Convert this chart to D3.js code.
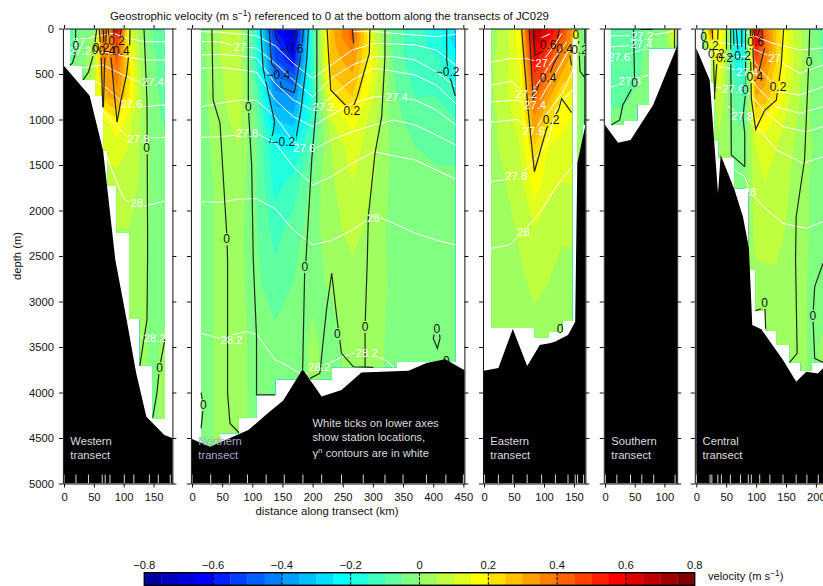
<!DOCTYPE html>
<html>
<head>
<meta charset="utf-8">
<script src="https://cdnjs.cloudflare.com/ajax/libs/d3/7.8.5/d3.min.js"></script>
<style>
  html, body { margin: 0; padding: 0; background: #fff; }
  svg { display: block; font-family: "Liberation Sans", Arial, sans-serif; }
  text { fill: #111; }
</style>
</head>
<body>
<div id="chart"></div>
<script>
// depth rows shared by all velocity tables (m)
var depthRows = [10, 100, 200, 350, 500, 750, 1000, 1300, 1700, 2200, 2800, 3500, 4200, 4700];

// ---------- Western transect ----------
var westStations = [0, 20, 41, 64, 69, 77, 101, 117, 143, 158, 178];
var westKm = [10, 30, 52, 66, 73, 89, 109, 130, 150, 169];
var westVel = [
  [-.08, -.03, .0, .5, .3, .65, .12, .02, -.05, -.09],
  [-.08, -.03, .02, .45, .3, .5, .15, .02, -.05, -.09],
  [-.07, -.03, .05, .42, .32, .45, .18, .02, -.05, -.09],
  [-.06, -.02, .06, .4, .33, .42, .2, .03, -.04, -.08],
  [-.05, -.02, .08, .35, .33, .38, .22, .04, -.04, -.08],
  [-.04, -.02, .1, .25, .3, .33, .2, .05, -.03, -.07],
  [-.03, -.02, .05, .15, .15, .2, .12, .04, -.03, -.06],
  [-.03, -.02, .04, .1, .12, .13, .1, .04, -.02, -.04],
  [-.03, -.02, .03, .06, .07, .08, .08, .04, -.02, -.03],
  [-.02, -.02, .03, .04, .04, .05, .05, .03, -.02, -.03],
  [.02, .02, .02, .02, .03, .03, .03, .02, -.02, -.02],
  [.02, .02, .02, .02, .02, .02, .02, .01, -.01, .01],
  [.02, .02, .02, .02, .02, .02, .02, .01, -.01, .02],
  [.02, .02, .02, .02, .02, .02, .02, .01, -.01, .02]
];
var westStepKm = [10, 31, 52, 65.5, 73, 88, 109, 127, 148, 169];
var westStepDepth = [412, 565, 738, 1343, 1728, 2245, 3192, 3705, 4291];
var westBottom = [[0, 412], [43, 738], [65.5, 1343], [86, 2544], [104, 3167], [121, 3788], [138, 4266], [168, 4467], [183, 4504]];
var westVelLines = [
  [[19.6, 10], [19, 200], [18, 300], [14, 380], [10, 404]],
  [[54.8, 10], [49, 290], [41, 480], [32, 565]],
  [[59, 10], [62, 260], [65, 866]],
  [[71, 10], [68, 400], [66, 866]],
  [[66, 10], [67, 280]],
  [[74, 10], [80, 400], [84, 700], [89, 1026]],
  [[110.5, 10], [110, 200], [105, 500], [95, 800], [89, 1026]],
  [[83, 10], [88, 320], [96, 10]],
  [[134, 10], [139, 785], [140, 2245], [140, 2544], [139, 3200], [127, 3705]],
  [[169, 3415], [160, 3730], [155.6, 4008], [148.6, 4277]]
];
var westVelLabels = [[20, 190, "0"], [52, 236, "0"], [62, 215, "0.2"], [72, 250, "0.4"], [88, 140, "0.2"], [96, 250, "0.4"], [138.5, 1315, "0"], [160, 3730, "0"]];
var westGammaLines = [
  [[169, 145], [138, 145], [105, 108], [83, 53], [50, 90], [25, 145], [12, 145]],
  [[169, 346], [133, 346], [105, 310], [83, 273], [61, 255], [43, 260], [27, 250], [12, 291]],
  [[169, 584], [133, 603], [105, 529], [88, 475], [65.5, 401], [45, 419], [25, 440], [12, 401]],
  [[169, 841], [133, 859], [102, 859], [88, 749], [72, 657], [58, 603], [50, 566]],
  [[169, 1196], [138, 1207], [105, 1189], [88, 1060], [72, 969], [65.5, 895]],
  [[169, 1896], [133, 1958], [102, 1884], [94, 1775], [80, 1555], [71.5, 1400]],
  [[169, 3415], [135, 3415], [127, 3368]]
];
var westGammaLabels = [[25, 145, "27"], [27, 250, "27.2"], [148.5, 584, "27.4"], [113, 830, "27.6"], [124.5, 1218, "27.8"], [122, 1921, "28"], [152, 3401, "28.2"]];

// ---------- Northern transect ----------
var northStations = [0, 31, 62, 92, 123, 153, 184, 215, 248, 284, 320, 350, 389, 421, 450];
var northKm = [15, 46, 77, 107, 138, 168, 200, 231, 266, 302, 335, 370, 405, 437];
var northVel = [
  [-.02, .05, .08, -.15, -.6, -.72, -.12, .28, .42, .1, -.07, -.13, -.18, -.25],
  [-.02, .05, .08, -.15, -.55, -.7, -.12, .28, .42, .1, -.07, -.13, -.17, -.28],
  [-.02, .05, .08, -.15, -.52, -.65, -.13, .28, .37, .13, -.07, -.14, -.16, -.26],
  [-.02, .05, .08, -.15, -.5, -.6, -.13, .27, .33, .14, -.06, -.14, -.14, -.2],
  [-.02, .04, .09, -.12, -.45, -.5, -.13, .25, .3, .13, -.05, -.12, -.12, -.18],
  [-.02, .04, .08, -.08, -.38, -.4, -.15, .18, .25, .1, -.04, -.1, -.1, -.14],
  [-.02, .03, .07, -.05, -.3, -.33, -.13, .1, .17, .07, -.03, -.08, -.09, -.1],
  [-.02, .02, .05, -.05, -.2, -.21, -.08, .05, .13, .06, -.02, -.05, -.06, -.06],
  [-.02, .01, .03, -.05, -.17, -.13, -.03, .04, .1, .05, -.02, -.04, -.04, -.04],
  [-.02, .01, .02, -.05, -.12, -.08, -.02, .03, .07, .03, -.02, -.03, -.03, -.03],
  [-.02, .01, .02, -.04, -.08, -.05, -.01, .005, .03, .02, -.01, -.02, -.02, -.02],
  [-.02, .01, .02, -.02, -.03, -.03, .01, -.02, .02, .01, -.01, -.01, -.01, -.01],
  [-.02, .01, .02, -.02, -.02, -.02, .01, -.01, .01, .01, -.01, -.01, -.01, -.01],
  [-.02, .01, .02, -.02, -.02, -.02, .01, -.01, .01, .01, -.01, -.01, -.01, -.01]
];
var northStepKm = [15, 46.4, 78, 107, 138, 231.7, 339.5, 437];
var northStepDepth = [4650, 4447, 4277, 4027, 3855, 3722, 3661];
var northBottom = [[0, 4511], [30, 4595], [93.4, 4412], [129, 4210], [151, 4090], [183.5, 3745], [215, 4045], [248, 3973], [281, 3780], [359, 3760], [389, 3677], [420, 3635], [453, 3760]];
var northVelLines = [
  [[33, 10], [35, 785], [46.4, 1040], [57.5, 2245], [59, 2544], [59, 4008], [63, 4341], [78, 4442]],
  [[93.4, 10], [93.4, 860], [99, 1518], [101.6, 2544], [107, 3387], [107, 4027], [138, 4027]],
  [[183.5, 3745], [187, 2620], [189, 2544], [198.5, 1445], [207, 785], [207, 10]],
  [[195.7, 3845], [212, 3789], [223, 3093], [231.7, 2690], [240, 3167], [248, 3569], [267.5, 3717], [300.7, 3723]],
  [[320, 10], [320, 310], [314.6, 969], [303.5, 1371], [292.4, 2068], [290.7, 2544], [287, 3277], [287, 3723]],
  [[406, 3258], [400, 3404], [407, 3514], [411.3, 3404], [408.5, 3258]],
  [[15, 4001], [19, 4137], [15, 4393]],
  [[114, 10], [118, 442], [137, 1027], [134, 1160], [129, 1250], [171, 1266], [181, 881], [190, 368], [193, 10]],
  [[128, 10], [132, 385], [145, 511], [148, 645], [170, 705], [182, 222], [185, 10]],
  [[137.6, 10], [140.5, 112], [151.5, 204], [165, 230], [171, 148], [173.6, 10]],
  [[224, 10], [230, 676], [254, 841], [265, 900], [274, 749], [294, 273], [295, 10]],
  [[266, 10], [268, 163]],
  [[422.4, 10], [422.4, 346], [425, 480], [430.7, 602], [436.6, 742]]
];
var northVelLabels = [[57.5, 2314, "0"], [93.4, 860, "0"], [187, 2620, "0"], [241, 3357, "0"], [287, 3277, "0"], [406, 3295, "0"], [422, 3650, "0"], [19, 4137, "0"],
  [151.5, 1247, "\u22120.2"], [143, 514, "\u22120.4"], [165, 222, "\u22120.6"], [265, 906, "0.2"], [424, 480, "\u22120.2"]];
var northGammaLines = [
  [[15, 35], [46, 40], [77, 60], [107, 80], [138, 190], [168, 383], [200, 548], [231, 401], [266, 236], [302, 163], [335, 170], [370, 181], [405, 236], [437, 401]],
  [[15, 145], [46, 145], [77, 200], [107, 215], [138, 383], [168, 566], [200, 749], [231, 548], [266, 401], [302, 310], [335, 310], [370, 346], [405, 475], [437, 640]],
  [[15, 291], [46, 285], [77, 300], [107, 320], [138, 603], [168, 786], [200, 896], [231, 750], [266, 566], [302, 438], [335, 470], [370, 511], [405, 621], [437, 823]],
  [[15, 437], [46, 430], [77, 450], [107, 480], [138, 786], [168, 969], [200, 1078], [231, 950], [266, 823], [302, 750], [335, 750], [370, 786], [405, 896], [437, 1060]],
  [[15, 859], [46, 823], [77, 786], [107, 790], [138, 969], [168, 1244], [200, 1335], [231, 1225], [266, 1134], [302, 1060], [335, 1006], [370, 1060], [405, 1170], [437, 1280]],
  [[15, 1196], [46, 1190], [77, 1170], [107, 1152], [138, 1260], [168, 1518], [200, 1720], [231, 1628], [266, 1482], [302, 1353], [335, 1400], [370, 1445], [405, 1555], [437, 1654]],
  [[15, 1903], [46, 1910], [77, 1875], [107, 1870], [138, 1980], [168, 2214], [200, 2379], [231, 2330], [266, 2214], [302, 2049], [335, 2141], [370, 2251], [405, 2324], [437, 2379]],
  [[15, 3350], [46, 3405], [77, 3350], [90, 3330], [107, 3360], [138, 3643], [150, 3675], [184, 3808], [211, 3723], [245, 3623], [265, 3569], [290, 3570], [320, 3640], [335, 3723]],
  [[266, 35], [302, 35], [335, 55], [370, 71], [405, 90], [437, 64]]
];
var northGammaLabels = [[79.6, 200, "27"], [91.7, 1152, "27.8"], [65.7, 3423, "28.2"], [211, 3723, "28.2"], [289.7, 3570, "28.2"], [300.7, 2086, "28"], [186, 1317, "27.6"], [218, 859, "27.2"], [339.5, 749, "27.4"]];

// ---------- Eastern transect ----------
var eastStations = [1, 24, 48, 72, 96, 119, 140, 152, 156, 166];
var eastKm = [12, 36, 60, 84, 107, 129, 146, 154, 161, 170];
var eastVel = [
  [.03, .08, .18, .72, .6, .5, .35, .12, -.03, -.05],
  [.03, .08, .18, .68, .58, .45, .33, .12, -.03, -.05],
  [.03, .08, .17, .62, .5, .42, .3, .1, -.03, -.05],
  [.04, .08, .16, .58, .46, .35, .28, .08, -.03, -.04],
  [.04, .09, .15, .5, .4, .3, .25, .07, -.02, -.03],
  [.04, .09, .14, .42, .32, .2, .18, .05, -.01, -.02],
  [.03, .08, .12, .34, .22, .18, .15, .04, -.01, -.02],
  [.03, .07, .1, .25, .15, .12, .12, .04, .0, -.01],
  [.02, .05, .08, .18, .12, .1, .1, .04, .0, .0],
  [.01, .03, .06, .1, .07, .06, .06, .03, .0, .0],
  [.01, .03, .04, .06, .05, .03, .03, .02, .0, .0],
  [.01, .02, .02, .03, .02, .02, .02, .01, .0, .0]
];
var eastStepKm = [12, 84, 108, 130.5, 147, 155, 165, 170];
var eastStepDepth = [3288, 3398, 3332, 3214, 108, 1480, 1060];
var eastBottom = [[0, 3760], [24, 3730], [48, 3302], [72, 3709], [93, 3478], [109, 3460], [118, 3441], [140, 3368], [152, 3222], [155.5, 1481], [169, 1060], [172, 1060]];
var eastVelLines = [
  [[62.8, 10], [74, 932], [84, 1574], [104.5, 1097], [113, 1009], [124, 899], [129.5, 771], [146, 925]],
  [[75.5, 10], [82, 783], [92, 600], [107, 544], [115, 404], [124, 294], [135, 222]],
  [[143, 294], [146, 404]],
  [[82, 10], [85, 295], [101.7, 240], [107, 178], [121, 148], [125.5, 10]],
  [[168, 10], [168, 1060]],
  [[157, 10], [160, 470], [168, 540]]
];
var eastVelLabels = [[107, 181, "0.6"], [134.5, 218, "0.4"], [106.7, 547, "0.4"], [112, 1005, "0.2"], [153, 71, "0"], [159.5, 229, "0.2"], [127, 3295, "0"]];
var eastGammaLines = [
  [[96, 100], [110, 60]],
  [[11.7, 368], [43, 330], [70, 330], [96, 375], [116, 200], [130, 50]],
  [[11.7, 621], [45, 584], [71, 716], [88, 624], [116, 332], [138, 148]],
  [[11.7, 807], [55, 786], [85, 841], [88, 844], [127, 405], [143, 222]],
  [[11.7, 1030], [55, 1000], [82, 1130], [132, 698], [149, 441]],
  [[11.7, 1683], [32, 1665], [54, 1621], [76, 1518], [107, 1225], [120, 895], [147, 676]],
  [[11.7, 2416], [43, 2379], [65, 2233], [87, 2068], [98, 1976], [120, 1738], [147, 1518]]
];
var eastGammaLabels = [[96, 375, "27"], [71, 716, "27.2"], [85, 841, "27.4"], [83, 1122, "27.6"], [54, 1621, "27.8"], [66, 2233, "28"]];

// ---------- Southern transect ----------
var southStations = [0.5, 20, 43, 62, 82, 118];
var southKm = [10.4, 31.4, 52.5, 72.5, 100, 120];
var southVel = [
  [-.1, -.09, -.08, -.04, -.02, .2],
  [-.1, -.09, -.08, -.04, -.02, .15],
  [-.09, -.09, -.07, -.04, -.02, .1],
  [-.09, -.08, -.07, -.03, -.02, .05],
  [-.08, -.08, -.06, -.03, -.02, .0],
  [-.06, -.06, -.04, -.03, -.02, .0],
  [-.04, -.04, -.03, -.03, -.02, .0],
  [-.03, -.03, -.03, -.03, -.02, .0]
];
var southStepKm = [10.6, 31.4, 54, 74, 120];
var southStepDepth = [1060, 1013, 840, 218];
var southBottom = [[0, 1060], [22, 1255], [43, 1225], [81, 840], [120, 218], [122, 150]];
var southVelLines = [
  [[48, 10], [50, 602], [30, 841], [24.7, 1005], [10.6, 1060]],
  [[60, 10], [80, 10]],
  [[117, 10], [117, 218]]
];
var southVelLabels = [[50, 600, "0"]];
var southGammaLines = [
  [[10, 80], [40, 80], [62, 82], [90, 60], [115, 30]],
  [[10, 200], [40, 190], [61, 174], [74, 150]],
  [[10, 365], [24, 310], [60, 240], [74, 220]],
  [[10, 646], [41, 577], [74, 511]]
];
var southGammaLabels = [[62.3, 82, "27.2"], [61, 174, "27.4"], [23.6, 310, "27.6"], [41.5, 577, "27.8"]];

// ---------- Central transect ----------
var centralStations = [0, 23, 26, 36, 42, 57, 74, 87, 92, 106, 123, 145, 167, 185, 204, 223];
var centralKm = [11, 25, 31, 39, 50, 66, 80, 90, 99, 115, 134, 156, 176, 195, 214];
var centralVel = [
  [-.03, .45, .15, .2, .1, -.25, -.2, .15, .65, .4, .25, .12, .05, -.02, -.07],
  [-.03, .3, .15, .2, .08, -.25, -.2, .12, .62, .42, .25, .12, .05, -.02, -.07],
  [-.03, .15, .12, .2, .07, -.22, -.2, .1, .55, .4, .25, .13, .05, -.02, -.07],
  [-.03, .1, .1, .18, .05, -.2, -.18, .08, .45, .37, .25, .13, .05, -.02, -.06],
  [-.03, .05, .08, .15, .03, -.15, -.15, .05, .38, .32, .22, .12, .05, -.02, -.05],
  [-.03, .03, .05, .1, .02, -.08, -.1, .05, .3, .28, .21, .1, .04, -.01, -.04],
  [-.03, .02, .03, .06, .02, -.05, -.06, .04, .2, .18, .14, .08, .03, -.01, -.03],
  [-.02, .02, .02, .04, .02, -.03, -.03, .03, .1, .12, .1, .06, .03, .0, -.03],
  [.01, .01, .02, .03, .01, .0, -.02, .03, .08, .1, .08, .05, .02, -.01, -.03],
  [.01, .01, .01, .02, .01, .01, .01, .03, .06, .07, .07, .04, .02, -.01, -.02],
  [.01, .01, .01, .01, .01, .01, .01, .03, .04, .04, .04, .02, .01, -.01, -.02],
  [.01, .01, .01, .01, .01, .01, .01, .02, .02, .02, .02, .02, .01, -.01, .01],
  [.01, .01, .01, .01, .01, .01, .01, .02, .02, .02, .02, .02, .01, -.01, .01]
];
var centralStepKm = [7, 25, 29.6, 37.5, 64, 88, 99, 116, 134, 156, 175, 193.5, 235];
var centralStepDepth = [222, 600, 1233, 1420, 1756, 2654, 3101, 3321, 3478, 3670, 3762, 3670];
var centralBottom = [[0, 218], [22.4, 566], [36.3, 1811], [40.8, 1390], [64, 1775], [78, 2068], [88, 2413], [93.6, 3258], [108.7, 3305], [145, 3643], [167, 3882], [184, 3772], [203.5, 3791], [212, 3734], [235, 3700]];
var centralVelLines = [
  [[11, 10], [11, 90]],
  [[26.8, 10], [29, 368], [30.8, 778]],
  [[36.3, 10], [34.6, 350], [31, 700]],
  [[50.5, 10], [50.5, 280]],
  [[57.5, 10], [58.5, 1390], [81, 1518]],
  [[62, 10], [63, 180]],
  [[67, 10], [69.7, 250]],
  [[76, 10], [76, 200]],
  [[82.4, 10], [82.4, 709], [78, 970], [81, 1152], [81, 1518]],
  [[90.3, 10], [92, 771], [99.3, 1108], [114.4, 899], [133.8, 789], [142, 404], [146, 10]],
  [[93, 10], [97, 533]],
  [[109, 10], [114, 220], [103, 514]],
  [[96, 10], [99, 148], [106, 10]],
  [[189.6, 10], [188, 382], [181, 1445], [167, 2068], [166, 2544], [168.6, 3569], [156, 3670]],
  [[212, 2580], [198, 2837], [195, 3167], [198, 3624], [212, 3670]],
  [[99, 3101], [111, 3075], [114.4, 3013], [116, 3300]]
];
var centralVelLabels = [[12.4, 93, "0"], [23.4, 185, "0.2"], [33.4, 277, "0.2"], [47.5, 324, "0.2"], [71.4, 295, "\u22120.2"], [99.3, 148, "0.6"], [97.7, 533, "0.4"], [136.6, 643, "0.2"], [82, 672, "0"], [188.5, 368, "0"], [195, 3155, "0"], [114.4, 3013, "0"]];
var centralGammaLines = [
  [[80, 35], [128, 163], [173, 236], [235, 200]],
  [[22, 145], [80, 181], [112, 273], [131, 328], [173, 493], [212, 401], [235, 400]],
  [[25, 236], [55, 310], [90, 310], [117, 529], [140, 694], [173, 731], [212, 639], [235, 620]],
  [[37, 419], [85, 474], [101, 639], [134, 859], [173, 932], [212, 859], [235, 840]],
  [[26, 639], [64, 676], [90, 713], [112, 896], [145, 1079], [184, 1134], [212, 1079], [235, 1070]],
  [[51, 850], [77, 958], [101, 1079], [134, 1335], [179, 1482], [212, 1408], [235, 1400]],
  [[64, 1555], [81, 1628], [90, 1793], [112, 1958], [145, 2141], [184, 2196], [212, 2123], [235, 2100]]
];
var centralGammaLabels = [[131, 328, "27"], [85, 474, "27.4"], [62, 660, "27.6"], [77, 958, "27.8"], [90, 1793, "28"]];

// colour bar and axis ticks
var bandEdges = d3.range(32).map(function(i) { return -0.8 + i * 0.05; });
var barTicks = [-0.8, -0.6, -0.4, -0.2, 0, 0.2, 0.4, 0.6, 0.8];
var depthTicks = [0, 500, 1000, 1500, 2000, 2500, 3000, 3500, 4000, 4500, 5000];

var bandColor = d3.scaleLinear()
    .domain([1, 4, 12, 20, 24, 28, 32])
    .range(["#00009f", "#0000ff", "#00ffff", "#ffff00", "#ff8000", "#ff0000", "#800000"]);

var panels = [
  {name: "Western", left: 62.9, zero: 64, right: 172.4, rate: 0.597, ticks: [0, 50, 100, 150],
   stations: westStations, km: westKm, vel: westVel, stepKm: westStepKm, stepDepth: westStepDepth, bottom: westBottom,
   velLines: westVelLines, velLabels: westVelLabels, gammaLines: westGammaLines, gammaLabels: westGammaLabels},
  {name: "Northern", left: 190.9, zero: 192, right: 464.4, rate: 0.603, ticks: d3.range(0, 451, 50), nameColor: "#a9a9cc",
   stations: northStations, km: northKm, vel: northVel, stepKm: northStepKm, stepDepth: northStepDepth, bottom: northBottom,
   velLines: northVelLines, velLabels: northVelLabels, gammaLines: northGammaLines, gammaLabels: northGammaLabels},
  {name: "Eastern", left: 483, zero: 484, right: 585.4, rate: 0.6, ticks: [0, 50, 100, 150],
   stations: eastStations, km: eastKm, vel: eastVel, stepKm: eastStepKm, stepDepth: eastStepDepth, bottom: eastBottom,
   velLines: eastVelLines, velLabels: eastVelLabels, gammaLines: eastGammaLines, gammaLabels: eastGammaLabels},
  {name: "Southern", left: 603.8, zero: 605, right: 677.2, rate: 0.594, ticks: [0, 50, 100],
   stations: southStations, km: southKm, vel: southVel, stepKm: southStepKm, stepDepth: southStepDepth, bottom: southBottom,
   velLines: southVelLines, velLabels: southVelLabels, gammaLines: southGammaLines, gammaLabels: southGammaLabels},
  {name: "Central", left: 694.8, zero: 696.3, right: 835, rate: 0.598, ticks: [0, 50, 100, 150, 200],
   stations: centralStations, km: centralKm, vel: centralVel, stepKm: centralStepKm, stepDepth: centralStepDepth, bottom: centralBottom,
   velLines: centralVelLines, velLabels: centralVelLabels, gammaLines: centralGammaLines, gammaLabels: centralGammaLabels}
];

var width = 823, height = 586;
var svg = d3.select("#chart").append("svg")
    .attr("width", width)
    .attr("height", height);

var y = d3.scaleLinear().domain([0, 5000]).range([28.5, 483.5]);

panels.forEach(function(p, n) {
  var x = d3.scaleLinear()
      .domain([(p.left - p.zero) / p.rate, (p.right - p.zero) / p.rate])
      .range([p.left, p.right]);
  var g = svg.append("g");

  // stair stepped edge of the gridded data
  var stair = [[p.stepKm[0], depthRows[0]]];
  p.stepDepth.forEach(function(d, i) {
    stair.push([p.stepKm[i], d], [p.stepKm[i + 1], d]);
  });
  stair.push([p.stepKm[p.stepKm.length - 1], depthRows[0]]);
  var lineKm = d3.line()
      .x(function(d) { return x(d[0]); })
      .y(function(d) { return y(d[1]); });

  var defs = svg.append("defs");
  defs.append("clipPath").attr("id", "stair" + n)
    .append("path").attr("d", lineKm(stair) + "Z");
  defs.append("clipPath").attr("id", "box" + n)
    .append("rect").attr("x", p.left).attr("y", y(0)).attr("width", p.right - p.left).attr("height", y(5000) - y(0));

  // filled velocity bands
  var rows = p.vel.length, cols = p.km.length;
  var gridKm = d3.scaleLinear().domain(d3.range(cols).map(function(i) { return i + 0.5; })).range(p.km).clamp(true);
  var gridDepth = d3.scaleLinear().domain(d3.range(rows).map(function(i) { return i + 0.5; })).range(depthRows.slice(0, rows)).clamp(true);
  var flat = d3.merge(p.vel);
  var bands = d3.contours().size([cols, rows]).thresholds(bandEdges)(flat);
  var path = d3.geoPath(d3.geoTransform({
    point: function(a, b) { this.stream.point(x(gridKm(a)), y(gridDepth(b))); }
  }));
  g.append("g").attr("clip-path", "url(#stair" + n + ")")
    .selectAll("path").data(bands).enter().append("path")
    .attr("d", path)
    .attr("fill", function(d, i) { return bandColor(i + 1); });

  // contour lines, with gaps cut under their labels
  var gammaMask = defs.append("mask").attr("id", "gammaGap" + n).attr("maskUnits", "userSpaceOnUse")
      .attr("x", 0).attr("y", 0).attr("width", width).attr("height", height);
  var velMask = defs.append("mask").attr("id", "velGap" + n).attr("maskUnits", "userSpaceOnUse")
      .attr("x", 0).attr("y", 0).attr("width", width).attr("height", height);
  [gammaMask, velMask].forEach(function(m) {
    m.append("rect").attr("width", width).attr("height", height).attr("fill", "#fff");
  });

  var lines = g.append("g").attr("clip-path", "url(#box" + n + ")");
  lines.append("g").attr("mask", "url(#gammaGap" + n + ")")
    .selectAll("path").data(p.gammaLines).enter().append("path")
    .attr("d", lineKm).attr("fill", "none").attr("stroke", "#fff").attr("stroke-width", 1);
  lines.append("g").attr("mask", "url(#velGap" + n + ")")
    .selectAll("path").data(p.velLines).enter().append("path")
    .attr("d", lineKm).attr("fill", "none").attr("stroke", "#1d2a1d").attr("stroke-width", 1.2);

  function addLabels(data, color, size, mask) {
    lines.append("g").selectAll("text").data(data).enter().append("text")
      .attr("x", function(d) { return x(d[0]); })
      .attr("y", function(d) { return y(d[1]); })
      .attr("dy", "0.35em")
      .attr("text-anchor", "middle")
      .attr("font-size", size)
      .style("fill", color)
      .text(function(d) { return d[2]; })
      .each(function() {
        var b = this.getBBox();
        mask.append("rect").attr("x", b.x - 1).attr("y", b.y + 1).attr("width", b.width + 2).attr("height", b.height - 2).attr("fill", "#000");
      });
  }
  addLabels(p.gammaLabels, "#fff", 11.4, gammaMask);
  addLabels(p.velLabels, "#111", 12, velMask);

  // bathymetry
  var sea = d3.area()
      .x(function(d) { return x(d[0]); })
      .y0(y(5000))
      .y1(function(d) { return y(d[1]); });
  g.append("path").attr("d", sea(p.bottom)).attr("fill", "#000").attr("clip-path", "url(#box" + n + ")");

  // station ticks
  g.selectAll(".station").data(p.stations).enter().append("line")
    .attr("class", "station")
    .attr("x1", function(d) { return x(d); }).attr("x2", function(d) { return x(d); })
    .attr("y1", y(5000) - 9).attr("y2", y(5000))
    .attr("stroke", "#eee").attr("stroke-width", 0.9);

  // transect name
  g.append("g").selectAll("text").data([p.name, "transect"]).enter().append("text")
    .attr("x", p.zero + 6.3)
    .attr("y", function(d, i) { return y(4580) + i * 13.5; })
    .attr("font-size", 11.2)
    .style("fill", p.nameColor || "#ddd")
    .text(function(d) { return d; });

  // axes
  var bottomAxis = d3.axisBottom(x).tickValues(p.ticks).tickSizeInner(4).tickSizeOuter(0).tickPadding(6);
  var topAxis = d3.axisTop(x).tickValues(p.ticks).tickSizeInner(3.5).tickSizeOuter(0).tickFormat("");
  var leftAxis = d3.axisLeft(y).tickValues(depthTicks).tickSizeInner(4).tickSizeOuter(0).tickPadding(5).tickFormat(d3.format("d"));
  if (n > 0) leftAxis.tickFormat("");
  var rightAxis = d3.axisRight(y).tickValues(depthTicks).tickSizeInner(4).tickSizeOuter(0).tickFormat("");
  var axes = [
    [bottomAxis, 0, y(5000)], [topAxis, 0, y(0)],
    [leftAxis, p.left, 0], [rightAxis, p.right, 0]
  ];
  axes.forEach(function(a) {
    var ax = g.append("g")
        .attr("transform", "translate(" + a[1] + "," + a[2] + ")")
        .call(a[0]);
    ax.selectAll("text").attr("font-size", 11.2);
    ax.attr("font-family", null);
    ax.selectAll("path,line").attr("stroke", "#111");
  });
});

// extra text
function addUnit(sel, before, sup, after) {
  sel.append("tspan").text(before);
  sel.append("tspan").attr("dy", -4).attr("font-size", 8.4).text(sup);
  sel.append("tspan").attr("dy", 4).text(after);
}

svg.append("text").attr("x", 110).attr("y", 19.5).attr("font-size", 11.4)
  .call(addUnit, "Geostrophic velocity (m s", "\u22121", ") referenced to 0 at the bottom along the transects of JC029");
svg.append("text").attr("x", 327).attr("y", 514.5).attr("text-anchor", "middle").attr("font-size", 11.4)
  .text("distance along transect (km)");
svg.append("text").attr("transform", "translate(21,256) rotate(-90)").attr("text-anchor", "middle").attr("font-size", 11.2)
  .text("depth (m)");

var note = svg.append("g").attr("font-size", 11.2);
note.append("text").attr("x", 312.5).attr("y", 427).style("fill", "#ddd").text("White ticks on lower axes");
note.append("text").attr("x", 312.5).attr("y", 440.5).style("fill", "#ddd").text("show station locations,");
var gam = note.append("text").attr("x", 312.5).attr("y", 456.5).style("fill", "#ddd");
gam.append("tspan").text("\u03b3");
gam.append("tspan").attr("dy", -4).attr("font-size", 8).text("n");
gam.append("tspan").attr("dy", 4).text(" contours are in white");

// colour bar
var barX = d3.scaleLinear().domain([-0.8, 0.8]).range([144.3, 694.7]);
var barTop = 572.7, barHeight = 12.6;
var bar = svg.append("g");
bar.selectAll("rect").data(bandEdges).enter().append("rect")
  .attr("x", function(d) { return barX(d); })
  .attr("y", barTop)
  .attr("width", barX(0.05) - barX(0) + 0.3)
  .attr("height", barHeight)
  .attr("fill", function(d, i) { return bandColor(i + 1); });
bar.selectAll("line").data(barTicks.slice(1, -1)).enter().append("line")
  .attr("x1", function(d) { return barX(d); }).attr("x2", function(d) { return barX(d); })
  .attr("y1", barTop).attr("y2", barTop + barHeight)
  .attr("stroke", "#000").attr("stroke-dasharray", "3,1.5");
bar.append("rect").attr("x", barX(-0.8)).attr("y", barTop).attr("width", barX(0.8) - barX(-0.8)).attr("height", barHeight)
  .attr("fill", "none").attr("stroke", "#000").attr("stroke-width", 1.4);
var barFormat = function(d) { return d === 0 ? "0" : d3.format(".1f")(d).replace("-", "\u2212"); };
bar.selectAll("text").data(barTicks).enter().append("text")
  .attr("x", function(d) { return barX(d); })
  .attr("y", 569)
  .attr("text-anchor", "middle")
  .attr("font-size", 11.2)
  .text(barFormat);
svg.append("text").attr("x", 708).attr("y", 579.5).attr("font-size", 11.2)
  .call(addUnit, "velocity (m s", "\u22121", ")");
</script>
</body>
</html>
